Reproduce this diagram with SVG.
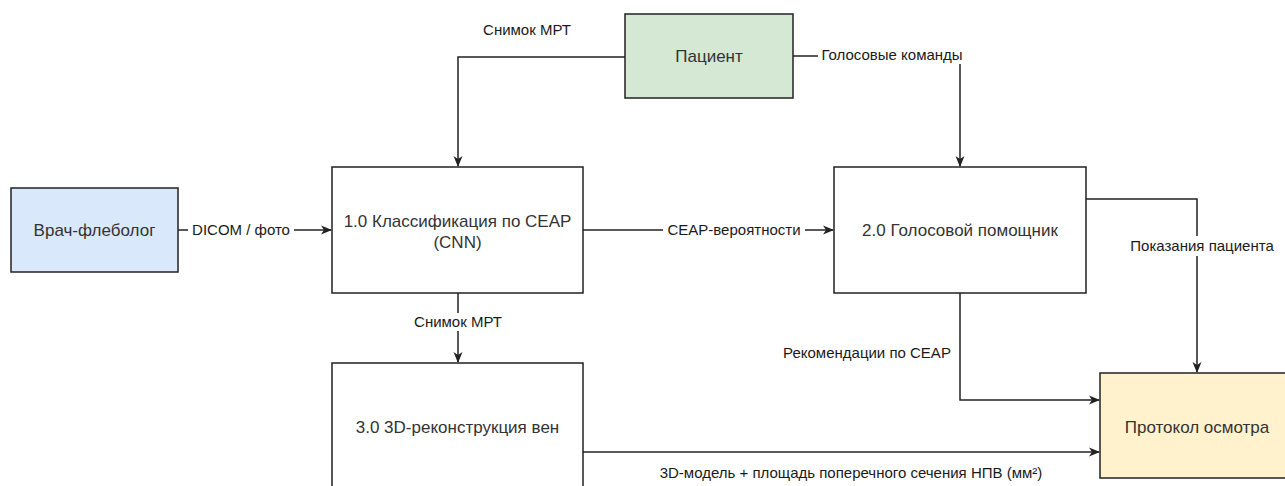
<svg xmlns="http://www.w3.org/2000/svg" width="1285" height="486" viewBox="0 0 1285 486">
<style>
  .box { stroke: #222; stroke-width: 1.5; }
  .proc { fill: #ffffff; }
  .pat { fill: #d5e8d4; }
  .doc { fill: #dae8fc; }
  .out { fill: #fff2cc; }
  .nt { font-family: "Liberation Sans", Arial, sans-serif; font-size: 17px; fill: #333; text-anchor: middle; }
  .el { font-family: "Liberation Sans", Arial, sans-serif; font-size: 15px; fill: #1a1a1a; text-anchor: middle; }
  .bg { fill: #ffffff; }
  .ln { fill: none; stroke: #222; stroke-width: 1.5; }
</style>
<defs>
  <marker id="arr" markerWidth="12" markerHeight="10" refX="10" refY="5" orient="auto" markerUnits="userSpaceOnUse">
    <path d="M0,0.5 L11,5 L0,9.5 L3,5 Z" fill="#222"/>
  </marker>
</defs>
<rect width="1285" height="486" fill="#ffffff"/>

<g id="connectors">
  <!-- Patient -> 1.0 -->
  <path class="ln" d="M625,57 H458 V166" marker-end="url(#arr)"/>
  <text class="el" x="527" y="35">Снимок МРТ</text>
  <!-- Patient -> 2.0 -->
  <path class="ln" d="M793,56 H960 V166" marker-end="url(#arr)"/>
  <rect class="bg" x="818" y="45" width="148" height="19"/>
  <text class="el" x="892" y="60">Голосовые команды</text>
  <!-- Doctor -> 1.0 -->
  <path class="ln" d="M178,230 H331" marker-end="url(#arr)"/>
  <rect class="bg" x="188" y="221" width="106" height="18"/>
  <text class="el" x="241" y="235">DICOM / фото</text>
  <!-- 1.0 -> 2.0 -->
  <path class="ln" d="M583,230 H833" marker-end="url(#arr)"/>
  <rect class="bg" x="663" y="221" width="142" height="18"/>
  <text class="el" x="734" y="235">CEAP-вероятности</text>
  <!-- 1.0 -> 3.0 -->
  <path class="ln" d="M458,293 V362" marker-end="url(#arr)"/>
  <rect class="bg" x="413" y="313" width="90" height="18"/>
  <text class="el" x="458" y="327">Снимок МРТ</text>
  <!-- 2.0 -> Protocol (right) -->
  <path class="ln" d="M1086,199 H1197 V372" marker-end="url(#arr)"/>
  <rect class="bg" x="1126" y="236" width="152" height="20"/>
  <text class="el" x="1202" y="251">Показания пациента</text>
  <!-- 2.0 -> Protocol (bottom) -->
  <path class="ln" d="M960,293 V400 H1099" marker-end="url(#arr)"/>
  <text class="el" x="867" y="358">Рекомендации по CEAP</text>
  <!-- 3.0 -> Protocol -->
  <path class="ln" d="M583,452 H1099" marker-end="url(#arr)"/>
  <text class="el" x="851" y="478">3D-модель + площадь поперечного сечения НПВ (мм²)</text>
</g>

<g id="patient">
  <rect class="box pat" x="625" y="14" width="168" height="84"/>
  <text class="nt" x="709" y="62">Пациент</text>
</g>
<g id="doctor">
  <rect class="box doc" x="11" y="188" width="167" height="84"/>
  <text class="nt" x="94.5" y="236">Врач-флеболог</text>
</g>
<g id="proc1">
  <rect class="box proc" x="332" y="167" width="251" height="126"/>
  <text class="nt" x="457.5" y="227">1.0 Классификация по CEAP</text>
  <text class="nt" x="457.5" y="248">(CNN)</text>
</g>
<g id="proc2">
  <rect class="box proc" x="834" y="167" width="252" height="126"/>
  <text class="nt" x="960" y="236">2.0 Голосовой помощник</text>
</g>
<g id="proc3">
  <rect class="box proc" x="332" y="363" width="251" height="128"/>
  <text class="nt" x="457.5" y="433">3.0 3D-реконструкция вен</text>
</g>
<g id="protocol">
  <rect class="box out" x="1100" y="373" width="194" height="105"/>
  <text class="nt" x="1197" y="433">Протокол осмотра</text>
</g>
</svg>
